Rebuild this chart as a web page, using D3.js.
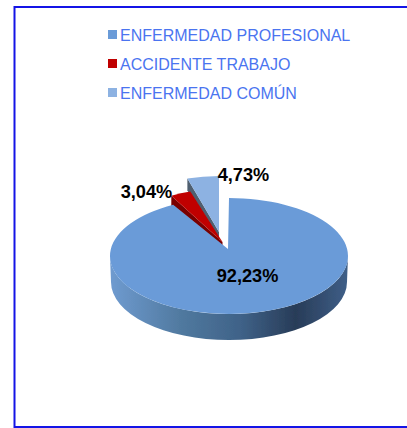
<!DOCTYPE html>
<html>
<head>
<meta charset="utf-8">
<script src="https://cdn.jsdelivr.net/npm/d3@7"></script>
<style>
  html, body { margin: 0; padding: 0; background: #fff; }
  svg { display: block; }
</style>
</head>
<body>
<svg width="407" height="428"></svg>
<script>
const categories = ["ENFERMEDAD PROFESIONAL", "ACCIDENTE TRABAJO", "ENFERMEDAD COMÚN"];
const values = [92.23, 3.04, 4.73];
const valueLabels = ["92,23%", "3,04%", "4,73%"];
const colors = ["#6a9bd8", "#c00000", "#8db2e2"];
const wallColors = ["#4a70a0", "#7a0000", "#4f5f70"];

const svg = d3.select("svg");
const rx = 119, ry = 58;
// where each slice sits after being pulled out of the pie
const centers = [
  {x: 229, y: 256, ax: 228, ay: 249, rx: rx, ry: ry, depth: 26},
  {x: 222, y: 247, ax: 222.5, ay: 242, rx: 108, ry: 58, depth: 7},
  {x: 219, y: 234, ax: 219, ay: 232, rx: 108, ry: 58, depth: 8}
];

const defs = svg.append("defs");
const grad = defs.append("linearGradient")
  .attr("id", "wall")
  .attr("x1", "0").attr("x2", "1").attr("y1", "0").attr("y2", "0");
[[0, "#6f9bd0"], [0.3, "#50799f"], [0.55, "#3f6288"], [0.78, "#283c58"], [1, "#3f5f88"]].forEach(s => {
  grad.append("stop").attr("offset", s[0]).attr("stop-color", s[1]);
});
defs.append("filter").attr("id", "soft")
  .append("feGaussianBlur").attr("stdDeviation", 0.5);

// outer frame, the right side is cut off in the picture
svg.append("path")
  .attr("d", "M407,7H14.5V427H407")
  .attr("fill", "none")
  .attr("stroke", "#1414e6")
  .attr("stroke-width", 2);

// legend
const legend = svg.append("g");
categories.forEach((c, i) => {
  const y = 35 + i * 29;
  legend.append("rect")
    .attr("x", 108).attr("y", y - 5)
    .attr("width", 9).attr("height", 9)
    .attr("fill", colors[i]);
  legend.append("text")
    .attr("x", 120).attr("y", y + 6)
    .style("font-family", "'Liberation Sans'")
    .style("font-size", "16px")
    .attr("fill", "#4a74f0")
    .text(c);
});

const pie = d3.pie().sort(null).value(d => d);
const arcs = pie(values);

const rim = (c, a, dy) => [c.x + c.rx * Math.sin(a), c.y + (dy || 0) - c.ry * Math.cos(a)];

const chart = svg.append("g").attr("filter", "url(#soft)");

// small slices first, the large one overlaps them at the tip
[2, 1].forEach(i => {
  const c = centers[i], a = arcs[i];
  const p0 = rim(c, a.startAngle), p1 = rim(c, a.endAngle);
  // side wall, visible on the left cut
  chart.append("path")
    .attr("d", `M${c.ax},${c.ay}L${p0[0]},${p0[1]}L${p0[0]},${p0[1] + c.depth + 4}L${c.ax},${c.ay + c.depth}Z`)
    .attr("fill", wallColors[i]);
  chart.append("path")
    .attr("d", `M${c.ax},${c.ay}L${p0[0]},${p0[1]}A${c.rx},${c.ry} 0 0 1 ${p1[0]},${p1[1]}Z`)
    .attr("fill", colors[i]);
});

const main = centers[0], mainArc = arcs[0];
const m0 = rim(main, mainArc.startAngle), m1 = rim(main, mainArc.endAngle);
// wall of the big slice: the lower half of the rim pushed down
chart.append("path")
  .attr("d", `M${main.x - main.rx},${main.y}A${main.rx},${main.ry} 0 0 0 ${main.x + main.rx},${main.y}`
    + `L${main.x + main.rx - 1},${main.y + main.depth}A${main.rx - 1},${main.ry} 0 0 1 ${main.x - main.rx + 1},${main.y + main.depth}Z`)
  .attr("fill", "url(#wall)");
chart.append("path")
  .attr("d", `M${main.ax},${main.ay}L${m0[0]},${m0[1]}A${main.rx},${main.ry} 0 1 1 ${m1[0]},${m1[1]}Z`)
  .attr("fill", colors[0]);

// value labels
const labelPos = [[247.5, 282], [146.5, 198], [243.5, 181]];
valueLabels.forEach((t, i) => {
  svg.append("text")
    .attr("x", labelPos[i][0]).attr("y", labelPos[i][1])
    .attr("text-anchor", "middle")
    .style("font-family", "'Liberation Sans'")
    .style("font-size", "18.2px")
    .style("font-weight", "bold")
    .attr("fill", "#000")
    .text(t);
});
</script>
</body>
</html>
